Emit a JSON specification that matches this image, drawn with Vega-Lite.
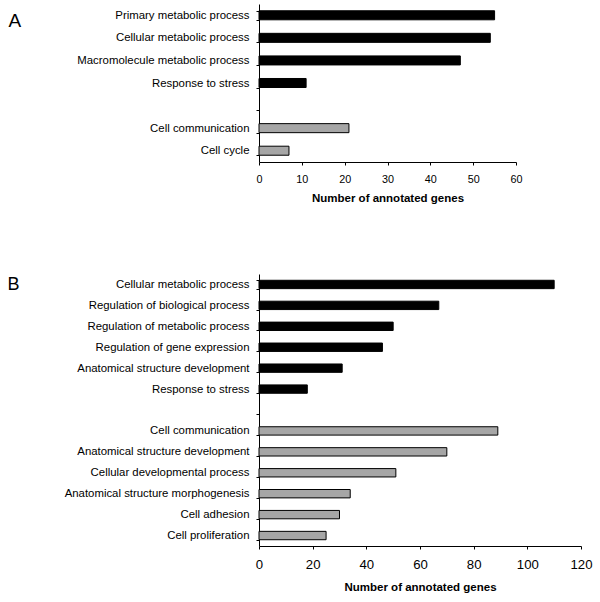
{
  "$schema": "https://vega.github.io/schema/vega-lite/v6.json",
  "padding": {"left": 7, "top": -2, "right": 5, "bottom": 5},
  "spacing": 112,
  "bounds": "flush",
  "config": {
    "view": {"stroke": null},
    "font": "Liberation Sans",
    "axis": {
      "domainColor": "black",
      "tickColor": "black",
      "labelColor": "black",
      "titleColor": "black",
      "grid": false,
      "tickSize": 3,
      "labelFont": "Liberation Sans",
      "titleFont": "Liberation Sans"
    }
  },
  "vconcat": [
    {
      "data": {
        "values": [
          {"term": "Primary metabolic process", "genes": 55, "kind": "solid"},
          {"term": "Cellular metabolic process", "genes": 54, "kind": "solid"},
          {"term": "Macromolecule metabolic process", "genes": 47, "kind": "solid"},
          {"term": "Response to stress", "genes": 11, "kind": "solid"},
          {"term": " ", "genes": 0, "kind": "gap"},
          {"term": "Cell communication", "genes": 21, "kind": "hatched"},
          {"term": "Cell cycle", "genes": 7, "kind": "hatched"}
        ]
      },
      "width": 257,
      "height": 158,
      "mark": {"type": "bar", "strokeWidth": 1},
      "encoding": {
        "y": {
          "field": "term", "type": "nominal", "sort": null,
          "scale": {"paddingInner": 0.6, "paddingOuter": 0.3},
          "axis": {"title": "A", "titleAngle": 0, "titleX": -251, "titleY": 22, "titleAlign": "left", "titleBaseline": "alphabetic", "titleFontSize": 19, "titleFontWeight": "normal", "tickBand": "extent", "labelFontSize": 11.4, "labelPadding": 7, "labelLimit": 400}
        },
        "x": {
          "field": "genes", "type": "quantitative",
          "scale": {"domain": [0, 60], "nice": false},
          "axis": {"values": [0, 10, 20, 30, 40, 50, 60], "title": "Number of annotated genes", "labelFontSize": 10.8, "labelPadding": 8, "labelFlush": false, "titleFontSize": 11.5, "titleFontWeight": "bold", "titlePadding": 9}
        },
        "fill": {"field": "kind", "type": "nominal", "scale": {"domain": ["solid", "hatched", "gap"], "range": ["black", "#a6a6a6", "transparent"]}, "legend": null},
        "stroke": {"field": "kind", "type": "nominal", "scale": {"domain": ["solid", "hatched", "gap"], "range": ["black", "black", "transparent"]}, "legend": null}
      }
    },
    {
      "data": {
        "values": [
          {"term": "Cellular metabolic process", "genes": 110, "kind": "solid"},
          {"term": "Regulation of biological process", "genes": 67, "kind": "solid"},
          {"term": "Regulation of metabolic process", "genes": 50, "kind": "solid"},
          {"term": "Regulation of gene expression", "genes": 46, "kind": "solid"},
          {"term": "Anatomical structure development", "genes": 31, "kind": "solid"},
          {"term": "Response to stress", "genes": 18, "kind": "solid"},
          {"term": " ", "genes": 0, "kind": "gap"},
          {"term": "Cell communication", "genes": 89, "kind": "hatched"},
          {"term": "Anatomical structure development ", "genes": 70, "kind": "hatched"},
          {"term": "Cellular developmental process", "genes": 51, "kind": "hatched"},
          {"term": "Anatomical structure morphogenesis", "genes": 34, "kind": "hatched"},
          {"term": "Cell adhesion", "genes": 30, "kind": "hatched"},
          {"term": "Cell proliferation", "genes": 25, "kind": "hatched"}
        ]
      },
      "width": 322,
      "height": 272,
      "mark": {"type": "bar", "strokeWidth": 1},
      "encoding": {
        "y": {
          "field": "term", "type": "nominal", "sort": null,
          "scale": {"paddingInner": 0.6, "paddingOuter": 0.3},
          "axis": {"title": "B", "titleAngle": 0, "titleX": -252, "titleY": 15, "titleAlign": "left", "titleBaseline": "alphabetic", "titleFontSize": 18, "titleFontWeight": "normal", "tickBand": "extent", "labelFontSize": 11.4, "labelPadding": 7, "labelLimit": 400}
        },
        "x": {
          "field": "genes", "type": "quantitative",
          "scale": {"domain": [0, 120], "nice": false},
          "axis": {"values": [0, 20, 40, 60, 80, 100, 120], "title": "Number of annotated genes", "labelFontSize": 13.2, "labelPadding": 9, "labelFlush": false, "titleFontSize": 11.5, "titleFontWeight": "bold", "titlePadding": 11}
        },
        "fill": {"field": "kind", "type": "nominal", "scale": {"domain": ["solid", "hatched", "gap"], "range": ["black", "#a6a6a6", "transparent"]}, "legend": null},
        "stroke": {"field": "kind", "type": "nominal", "scale": {"domain": ["solid", "hatched", "gap"], "range": ["black", "black", "transparent"]}, "legend": null}
      }
    }
  ]
}
